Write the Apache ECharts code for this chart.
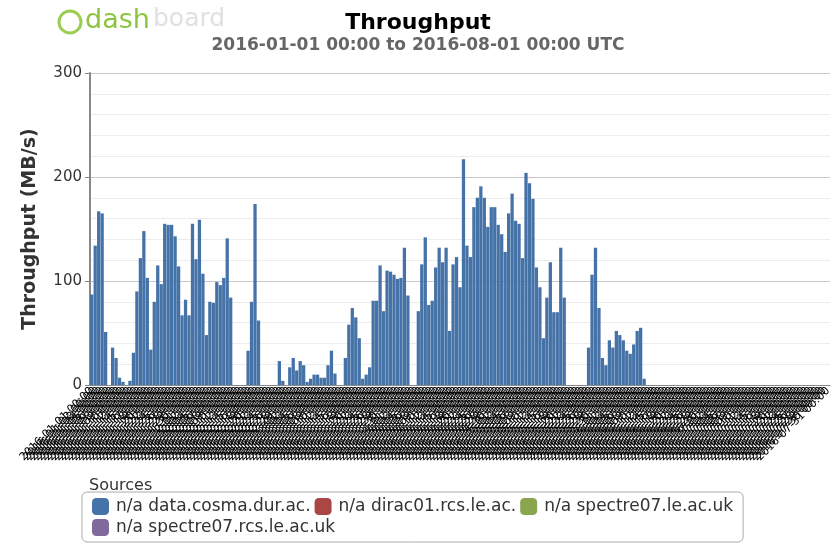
<!DOCTYPE html>
<html>
<head>
<meta charset="utf-8">
<script src="https://cdn.jsdelivr.net/npm/echarts@6/dist/echarts.min.js"></script>
<style>
  html, body { margin: 0; padding: 0; background: #fff; }
  #chart { width: 836px; height: 546px; }
</style>
</head>
<body>
<div id="chart"></div>
<script>
// daily throughput, 2016-01-01 .. 2016-07-31 (MB/s)
var cosma = [
  87,134,167,165,51,0,36,26,7,3,0,4,31,90,122,148,103,34,80,115,97,
  155,154,154,143,114,67,82,67,155,121,159,107,48,80,79,99,96,103,141,84,
  0,0,0,0,
  33,80,174,62,
  0,0,0,0,0,
  23,4,0,17,26,14,23,19,3,6,10,10,7,7,19,33,11,
  0,0,
  26,58,74,65,45,6,10,17,81,81,115,71,110,109,106,102,103,132,86,
  0,0,
  71,116,142,77,81,113,132,118,132,52,116,123,94,217,134,123,171,180,191,180,152,171,171,
  154,145,128,165,184,158,155,122,204,194,179,113,94,45,84,118,70,70,132,84,
  0,0,0,0,0,0,
  36,106,132,74,26,19,43,36,52,48,43,33,30,39,52,55,6,
  0,0,0,0,0,0,0,0,0,0,0,0,0,0,0,0,0,0,0,0,0,0,0,0,0,0,0,
  0,0,0,0,0,0,0,0,0,0,0,0,0,0,0,0,0,0,0,0,0,0,0,0,0,0
];
var sources = ['n/a data.cosma.dur.ac.', 'n/a dirac01.rcs.le.ac.', 'n/a spectre07.le.ac.uk', 'n/a spectre07.rcs.le.ac.uk'];
var colors = ['#4572A7', '#AA4643', '#89A54E', '#80699B'];
var yTicks = [0, 100, 200, 300];

// tick labels: one per day
var days = [];
var d = new Date(Date.UTC(2016, 0, 1));
function pad(n) { return n < 10 ? '0' + n : '' + n; }
for (var i = 0; i < cosma.length; i++) {
  days.push(d.getUTCFullYear() + '-' + pad(d.getUTCMonth() + 1) + '-' + pad(d.getUTCDate()) + ' 00:00');
  d.setUTCDate(d.getUTCDate() + 1);
}
var empty = cosma.map(function () { return 0; });

var chart = echarts.init(document.getElementById('chart'));
var seriesList = sources.map(function (name, k) {
  return {
    name: name,
    type: 'bar',
    stack: 'all',
    data: k === 0 ? cosma : empty,
    itemStyle: { color: colors[k] },
    barCategoryGap: '6%'
  };
});

chart.setOption({
  animation: false,
  textStyle: { fontFamily: 'DejaVu Sans' },
  title: [
    {
      text: 'Throughput',
      subtext: '2016-01-01 00:00 to 2016-08-01 00:00 UTC',
      left: 'center',
      top: 7,
      itemGap: 3,
      textStyle: { fontSize: 22, fontWeight: 'bold', color: '#000' },
      subtextStyle: { fontSize: 17, fontWeight: 'bold', color: '#666' }
    },
    {
      text: 'Sources',
      left: 84,
      top: 473,
      textStyle: { fontSize: 16, fontWeight: 'normal', color: '#333' }
    }
  ],
  graphic: [
    { type: 'circle', shape: { cx: 70, cy: 22, r: 11 }, style: { fill: 'none', stroke: '#9acd50', lineWidth: 3 } },
    { type: 'text', left: 85, top: 7, style: { text: 'dash', fontSize: 27, fill: '#8dc540', fontFamily: 'DejaVu Sans' } },
    { type: 'text', left: 153, top: 7, style: { text: 'board', fontSize: 25, fill: '#e0e0e0', fontFamily: 'DejaVu Sans' } }
  ],
  color: colors,
  legend: {
    data: sources,
    left: 82,
    top: 492,
    width: 730,
    icon: 'roundRect',
    itemWidth: 17,
    itemHeight: 17,
    itemGap: 4,
    padding: [6, 10],
    borderColor: '#aaa',
    borderWidth: 1,
    borderRadius: 5,
    textStyle: { fontSize: 17, color: '#333', padding: [0, 0, 0, 2] }
  },
  grid: { left: 90, right: 6, top: 73, bottom: 161 },
  xAxis: {
    type: 'category',
    data: days,
    axisLine: { lineStyle: { color: '#888' } },
    axisTick: { interval: 0, alignWithLabel: true, lineStyle: { color: '#444' } },
    axisLabel: { interval: 0, rotate: 45, fontSize: 11, color: '#000', margin: 4 }
  },
  yAxis: {
    type: 'value',
    min: 0,
    max: 300,
    interval: 100,
    name: 'Throughput (MB/s)',
    nameLocation: 'middle',
    nameGap: 50,
    nameTextStyle: { fontSize: 19, fontWeight: 'bold', color: '#333' },
    axisLine: { show: true, lineStyle: { color: '#888', width: 2 } },
    axisTick: { show: true, length: 5, lineStyle: { color: '#888' } },
    axisLabel: { fontSize: 15, color: '#333', margin: 8,
      formatter: function (v) { return yTicks.indexOf(v) >= 0 ? v : ''; } },
    splitLine: { lineStyle: { color: '#c8c8c8' } },
    minorTick: { show: false, splitNumber: 5 },
    minorSplitLine: { show: true, lineStyle: { color: '#ececec' } }
  },
  series: seriesList
});
</script>
</body>
</html>
